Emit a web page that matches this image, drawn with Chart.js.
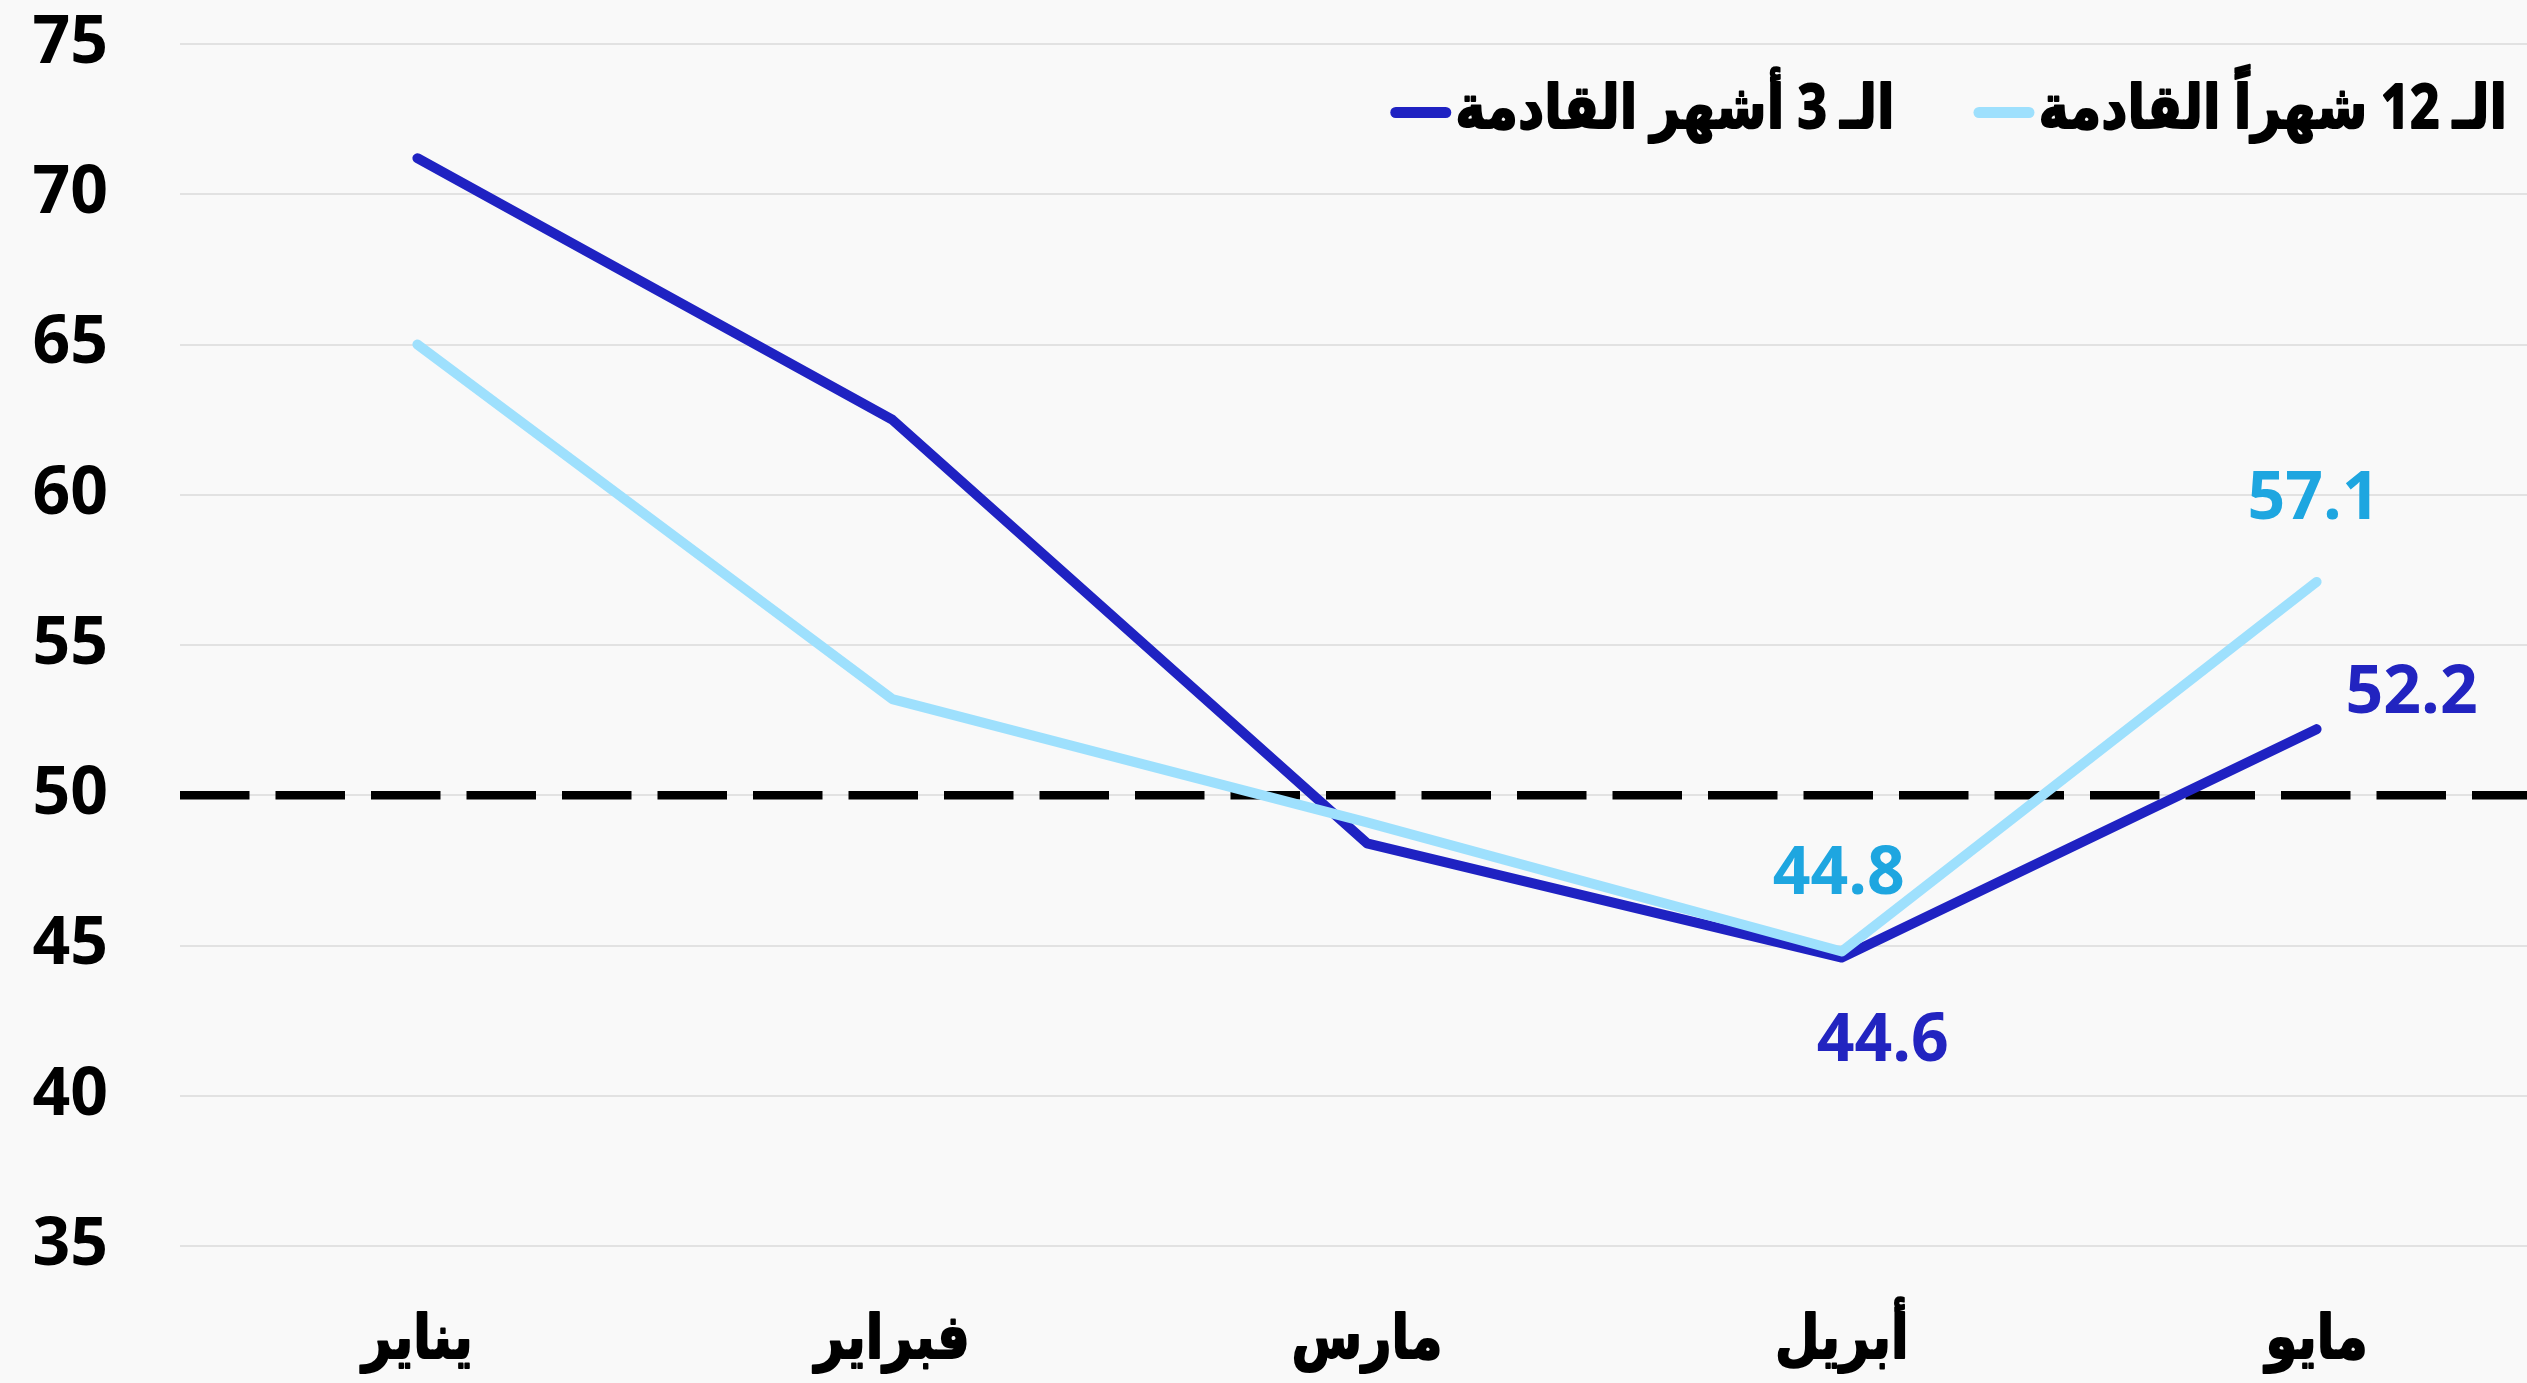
<!DOCTYPE html>
<html><head><meta charset="utf-8">
<script src="https://cdn.jsdelivr.net/npm/chart.js@4.4.0/dist/chart.umd.min.js"></script>
<style>
html,body{margin:0;padding:0;background:#f9f9f9;overflow:hidden;width:2527px;height:1383px;}
#wrap{position:absolute;left:0;top:0;width:2560px;height:1400px;}
</style></head><body>
<div id="wrap"><canvas id="c"></canvas></div>
<script>
// ---- data ----
const categories = ['يناير', 'فبراير', 'مارس', 'أبريل', 'مايو'];
const next12Months = [65.0, 53.2, 49.1, 44.8, 57.1];
const next3Months = [71.2, 62.5, 48.4, 44.6, 52.2];
const seriesLabels = ['الـ 12 شهراً القادمة', 'الـ 3 أشهر القادمة'];
const yTickValues = [35, 40, 45, 50, 55, 60, 65, 70, 75];
const thresholdValue = 50;

// ---- styles ----
const LIGHT = '#9ee0fd';
const DARK = '#1f22c2';
const LIGHT_LABEL = '#1ea6e0';
const DARK_LABEL = '#2224c0';
const NUM_FONT = "'Open Sans', 'DejaVu Sans', sans-serif";
const AR_FONT = "'Open Sans', 'DejaVu Sans', sans-serif";
const AR_SIZE = 61, AR_SCALEX = 0.84;

const CANVAS_H = 1400;
const PLOT_TOP = 44, PLOT_BOTTOM = 1246, PLOT_LEFT = 180, PLOT_RIGHT = 2554;

// labels shown on chart: [datasetIndex, pointIndex, dx, dy, color]
const pointLabels = [
  [0, 4, -3, -82, LIGHT_LABEL],
  [1, 4, 95, -35, DARK_LABEL],
  [0, 3, -3, -76, LIGHT_LABEL],
  [1, 3, 41, 85, DARK_LABEL]
];

function drawCondensed(ctx, text, x, y) {
  ctx.save();
  ctx.translate(x, y);
  ctx.scale(AR_SCALEX, 1);
  ctx.lineJoin = 'round';
  ctx.lineWidth = 2;
  ctx.strokeStyle = ctx.fillStyle;
  ctx.strokeText(text, 0, 0);
  ctx.fillText(text, 0, 0);
  ctx.restore();
}

const thresholdPlugin = {
  id: 'threshold',
  beforeDatasetsDraw(chart) {
    const {ctx, chartArea, scales} = chart;
    const y = scales.y.getPixelForValue(thresholdValue);
    ctx.save();
    ctx.strokeStyle = '#000';
    ctx.lineWidth = 8.5;
    ctx.setLineDash([69.5, 26]);
    ctx.beginPath();
    ctx.moveTo(chartArea.left, y);
    ctx.lineTo(chart.width, y);
    ctx.stroke();
    ctx.restore();
  }
};

const valueLabelPlugin = {
  id: 'valueLabels',
  afterDatasetsDraw(chart) {
    const {ctx} = chart;
    ctx.save();
    ctx.font = `bold 66px ${NUM_FONT}`;
    ctx.textAlign = 'center';
    ctx.textBaseline = 'middle';
    pointLabels.forEach(([ds, i, dx, dy, col]) => {
      const el = chart.getDatasetMeta(ds).data[i];
      const v = chart.data.datasets[ds].data[i];
      ctx.fillStyle = col;
      ctx.fillText(v.toFixed(1), el.x + dx, el.y + dy);
    });
    ctx.restore();
  }
};

const categoryLabelPlugin = {
  id: 'categoryLabels',
  afterDraw(chart) {
    const {ctx, scales} = chart;
    ctx.save();
    ctx.font = `bold ${AR_SIZE}px ${AR_FONT}`;
    ctx.textAlign = 'center';
    ctx.textBaseline = 'alphabetic';
    ctx.fillStyle = '#000';
    chart.data.labels.forEach((lab, i) => {
      drawCondensed(ctx, lab, scales.x.getPixelForValue(i), 1358);
    });
    ctx.restore();
  }
};

const legendPlugin = {
  id: 'customLegend',
  afterDraw(chart) {
    const {ctx} = chart;
    ctx.save();
    ctx.font = `bold ${AR_SIZE}px ${AR_FONT}`;
    ctx.textAlign = 'right';
    ctx.textBaseline = 'alphabetic';
    let x = 2507;
    const baseline = 128, sy = 112.5;
    chart.data.datasets.forEach(ds => {
      const w = ctx.measureText(ds.label).width * AR_SCALEX;
      ctx.fillStyle = '#000';
      drawCondensed(ctx, ds.label, x, baseline);
      const sx1 = x - w - 4, sx0 = sx1 - 61;
      ctx.strokeStyle = ds.borderColor;
      ctx.lineWidth = 11;
      ctx.lineCap = 'round';
      ctx.beginPath();
      ctx.moveTo(sx0 + 5.5, sy);
      ctx.lineTo(sx1 - 5.5, sy);
      ctx.stroke();
      x = sx0 - 79;
    });
    ctx.restore();
  }
};

new Chart(document.getElementById('c'), {
  type: 'line',
  data: {
    labels: categories,
    datasets: [
      { label: seriesLabels[0], data: next12Months, borderColor: LIGHT, backgroundColor: LIGHT,
        borderWidth: 10, pointRadius: 0, borderCapStyle: 'round', borderJoinStyle: 'round', tension: 0 },
      { label: seriesLabels[1], data: next3Months, borderColor: DARK, backgroundColor: DARK,
        borderWidth: 10, pointRadius: 0, borderCapStyle: 'round', borderJoinStyle: 'round', tension: 0 }
    ]
  },
  options: {
    responsive: true,
    maintainAspectRatio: false,
    animation: false,
    devicePixelRatio: 1,
    layout: { padding: { top: PLOT_TOP, right: 2560 - PLOT_RIGHT, left: 0, bottom: 0 } },
    plugins: { legend: { display: false }, tooltip: { enabled: false } },
    scales: {
      x: {
        offset: true,
        grid: { display: false, drawTicks: false },
        border: { display: false },
        ticks: { display: false },
        afterFit(s) { s.height = CANVAS_H - PLOT_BOTTOM; s.paddingLeft = 0; s.paddingRight = 0; }
      },
      y: {
        min: 35, max: 75,
        afterBuildTicks(s) { s.ticks = yTickValues.map(v => ({ value: v })); },
        grid: { color: '#e2e2e2', lineWidth: 2, drawTicks: false },
        border: { display: false },
        ticks: { color: '#000', font: { family: NUM_FONT, size: 66, weight: 'bold' }, padding: 72 },
        afterFit(s) { s.width = PLOT_LEFT; s.paddingTop = 0; s.paddingBottom = 0; }
      }
    }
  },
  plugins: [thresholdPlugin, valueLabelPlugin, categoryLabelPlugin, legendPlugin]
});
</script>
</body></html>
